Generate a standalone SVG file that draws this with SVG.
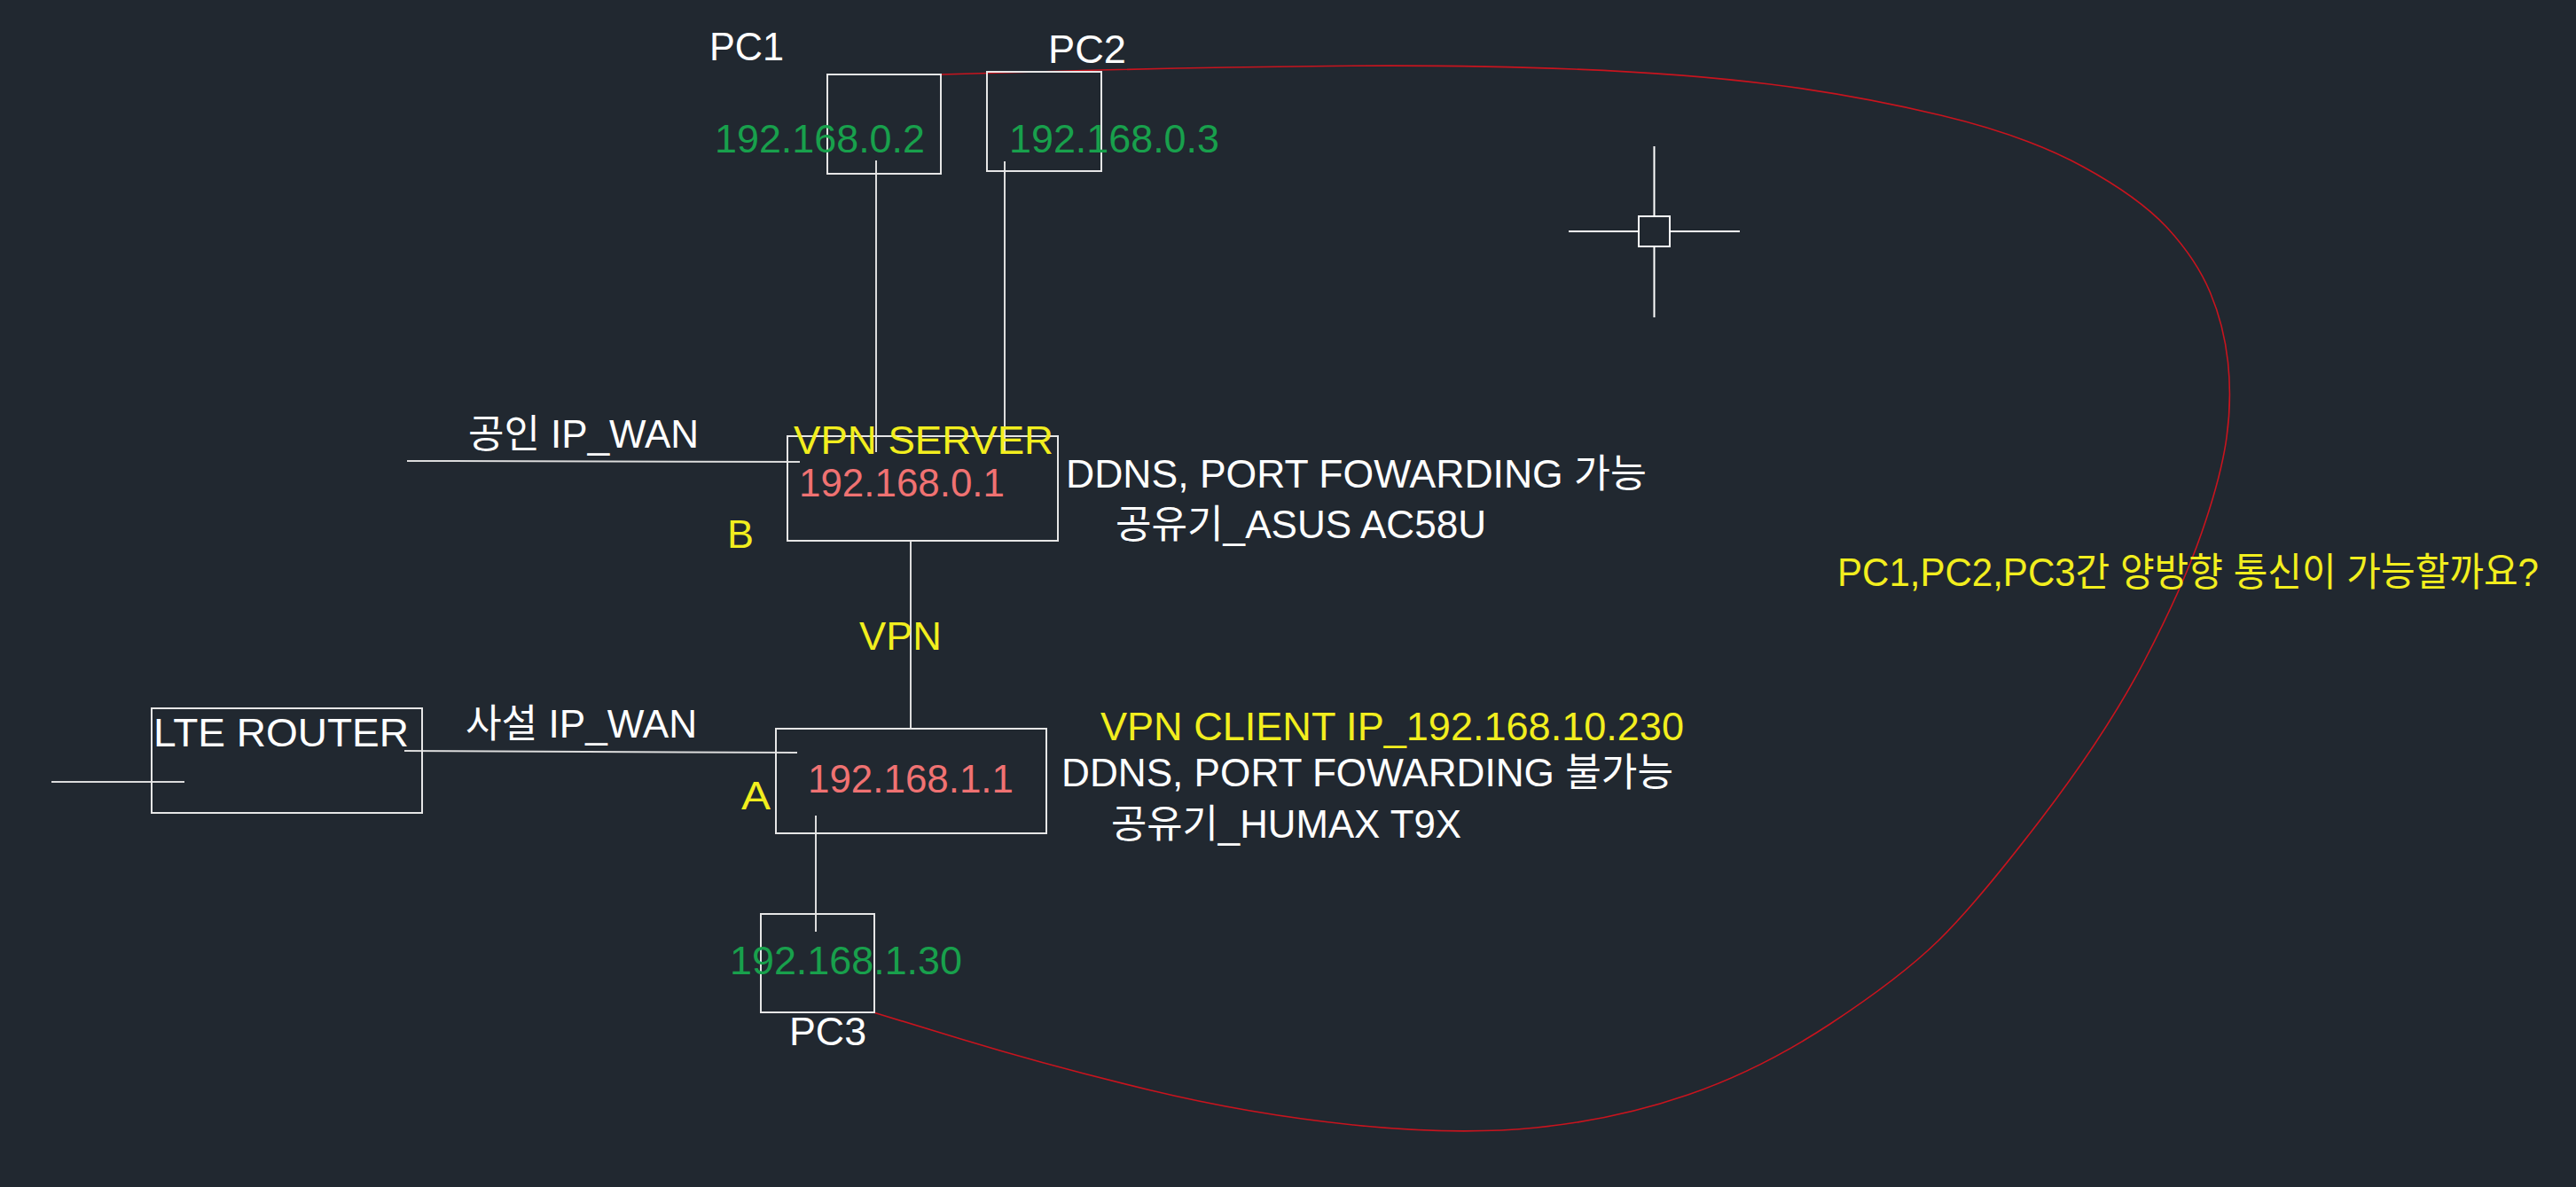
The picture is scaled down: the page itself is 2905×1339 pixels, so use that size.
<svg xmlns="http://www.w3.org/2000/svg" width="2905" height="1339" viewBox="0 0 2905 1339">
<style>
text{font-family:"Liberation Sans","Noto Sans CJK KR",Arial,sans-serif;font-size:44px}
.w{fill:#ffffff}.g{fill:#18a04c}.r{fill:#f07272}.y{fill:#f2ee1e}
.box{fill:none;stroke:#e6e6e6;stroke-width:2}
.ln{fill:none;stroke:#dcdcdc;stroke-width:2}
.cross{fill:none;stroke:#ffffff;stroke-width:2}
.loop{fill:none;stroke:#c8141e;stroke-width:1.6;stroke-linejoin:round}
</style>
<rect x="0" y="0" width="2905" height="1339" fill="#212830"/>
<g id="connectors">
<line class="ln" x1="988" y1="181" x2="988" y2="510"/>
<line class="ln" x1="1133" y1="182" x2="1133" y2="510"/>
<line class="ln" x1="459" y1="520" x2="902" y2="521"/>
<line class="ln" x1="1027" y1="610" x2="1027" y2="822"/>
<line class="ln" x1="58" y1="882" x2="208" y2="882"/>
<line class="ln" x1="456" y1="847" x2="899" y2="849"/>
<line class="ln" x1="920" y1="920" x2="920" y2="1051"/>
</g>
<g id="loop">
<path class="loop" d="M1061,84 L1205.5,80 Q1350,76 1500,74.5 Q1650,73 1775,78 Q1900,83 1996,95 Q2092,107 2188.5,130 Q2285,153 2349,188 Q2413,223 2445,258 Q2477,293 2492.5,330 Q2508,367 2512.5,408.5 Q2517,450 2511,493.5 Q2505,537 2483,600.5 Q2461,664 2418,746 Q2375,828 2302,923.5 Q2229,1019 2186,1061 Q2143,1103 2064,1155 Q1985,1207 1903.5,1235 Q1822,1263 1732.5,1272 Q1643,1281 1526.5,1269 Q1410,1257 1296,1229.5 Q1182,1202 1083.5,1172 L985,1142"/>
</g>
<g id="pc1">
<rect class="box" x="933" y="84" width="128" height="112"/>
<text class="w" x="800" y="68" textLength="84" lengthAdjust="spacingAndGlyphs">PC1</text>
<text class="g" x="806" y="172" textLength="237" lengthAdjust="spacingAndGlyphs">192.168.0.2</text>
</g>
<g id="pc2">
<rect class="box" x="1113" y="81" width="129" height="112"/>
<text class="w" x="1182" y="71" textLength="88" lengthAdjust="spacingAndGlyphs">PC2</text>
<text class="g" x="1138" y="172" textLength="237" lengthAdjust="spacingAndGlyphs">192.168.0.3</text>
</g>
<g id="vpn-server">
<rect class="box" x="888" y="492" width="305" height="118"/>
<text class="y" x="895" y="512" textLength="293" lengthAdjust="spacingAndGlyphs">VPN SERVER</text>
<text class="r" x="901" y="560" textLength="232" lengthAdjust="spacingAndGlyphs">192.168.0.1</text>
<text class="y" x="820" y="618" textLength="30" lengthAdjust="spacingAndGlyphs">B</text>
<text class="w" x="1202" y="550" textLength="655" lengthAdjust="spacingAndGlyphs">DDNS, PORT FOWARDING 가능</text>
<text class="w" x="1258" y="607" textLength="418" lengthAdjust="spacingAndGlyphs">공유기_ASUS AC58U</text>
</g>
<g id="wan-public">
<text class="w" x="528" y="505" textLength="260" lengthAdjust="spacingAndGlyphs">공인 IP_WAN</text>
</g>
<g id="vpn-label">
<text class="y" x="969" y="733" textLength="93" lengthAdjust="spacingAndGlyphs">VPN</text>
</g>
<g id="lte-router">
<rect class="box" x="171" y="799" width="305" height="118"/>
<text class="w" x="173" y="842" textLength="288" lengthAdjust="spacingAndGlyphs">LTE ROUTER</text>
</g>
<g id="wan-private">
<text class="w" x="525" y="832" textLength="261" lengthAdjust="spacingAndGlyphs">사설 IP_WAN</text>
</g>
<g id="vpn-client">
<rect class="box" x="875" y="822" width="305" height="118"/>
<text class="r" x="911" y="894" textLength="232" lengthAdjust="spacingAndGlyphs">192.168.1.1</text>
<text class="y" x="836" y="913" textLength="33" lengthAdjust="spacingAndGlyphs">A</text>
<text class="y" x="1241" y="835" textLength="658" lengthAdjust="spacingAndGlyphs">VPN CLIENT IP_192.168.10.230</text>
<text class="w" x="1197" y="887" textLength="690" lengthAdjust="spacingAndGlyphs">DDNS, PORT FOWARDING 불가능</text>
<text class="w" x="1253" y="945" textLength="395" lengthAdjust="spacingAndGlyphs">공유기_HUMAX T9X</text>
</g>
<g id="pc3">
<rect class="box" x="858" y="1031" width="128" height="111"/>
<text class="g" x="823" y="1099" textLength="262" lengthAdjust="spacingAndGlyphs">192.168.1.30</text>
<text class="w" x="890" y="1179" textLength="87" lengthAdjust="spacingAndGlyphs">PC3</text>
</g>
<g id="crosshair">
<rect class="cross" x="1848" y="244" width="35" height="34"/>
<line class="cross" x1="1769" y1="261" x2="1848" y2="261"/>
<line class="cross" x1="1883" y1="261" x2="1962" y2="261"/>
<line class="cross" x1="1865.5" y1="165" x2="1865.5" y2="244"/>
<line class="cross" x1="1865.5" y1="278" x2="1865.5" y2="358"/>
</g>
<g id="question">
<text class="y" x="2072" y="661" textLength="791" lengthAdjust="spacingAndGlyphs">PC1,PC2,PC3간 양방향 통신이 가능할까요?</text>
</g>
</svg>
